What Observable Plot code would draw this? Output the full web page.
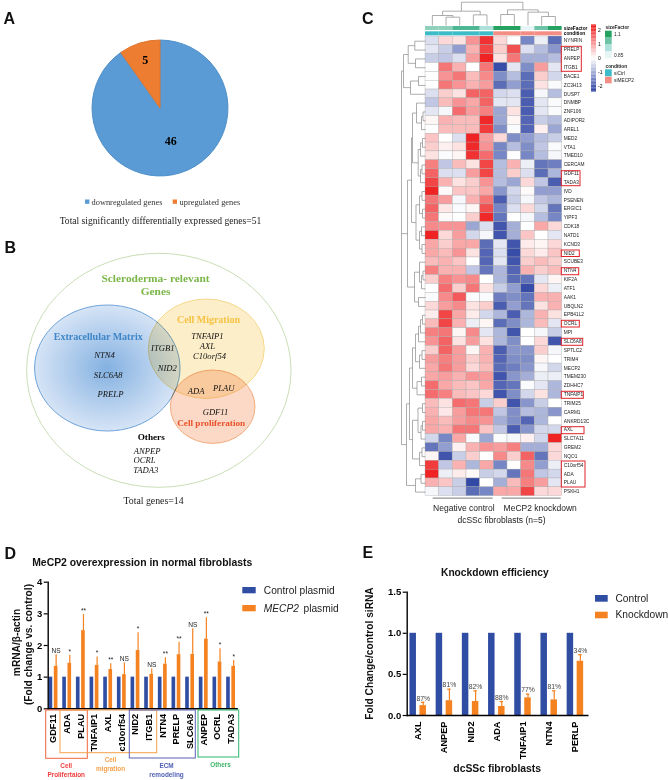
<!DOCTYPE html>
<html>
<head>
<meta charset="utf-8">
<script src="https://cdn.jsdelivr.net/npm/d3@7"></script>
<script src="https://cdn.jsdelivr.net/npm/@observablehq/plot@0.6"></script>
<style>
html,body{margin:0;padding:0;background:#fff}
#page{position:relative;width:668px;height:780px;overflow:hidden;background:#fff}
#page svg{position:absolute;max-width:none;background:transparent}
</style>
</head>
<body>
<div id="page"></div>
<script>
const SANS = "'Liberation Sans', Arial, sans-serif";
const SERIF = "'Liberation Serif', 'Times New Roman', serif";
const BLUE = "#2f4da3", ORANGE = "#f58220";

// ---- Panel A
const pieLabels = ["downregulated genes", "upregulated genes"];
const pieValues = [46, 5];
const pieColors = ["#5b9bd5", "#ed7d31"];
const pieEdges = ["#4f8fc9", "#e0762f"];

// ---- Panel B
const vennSets = [
  {name: "outer", cx: 158.8, cy: 370.3, rx: 132.2, ry: 117, fill: "none", stroke: "#c9deb4"},
  {name: "ecm", cx: 107.3, cy: 368, rx: 72.7, ry: 63, fill: "url(#ecmFill)", stroke: "#6fa3d8"},
  {name: "migration", cx: 206.3, cy: 348.7, rx: 58, ry: 49.7, fill: "#fdeeca", stroke: "#f6d88c"},
  {name: "proliferation", cx: 212.7, cy: 406.7, rx: 42.3, ry: 36.7, fill: "#fbd9c6", stroke: "#f2ab7c"}
];
const vennHeadings = [
  {t: "Scleroderma- relevant", x: 155, y: 277.7, c: "#7ab648", s: 11.4},
  {t: "Genes", x: 155, y: 291, c: "#7ab648", s: 11.4},
  {t: "Cell Migration", x: 208, y: 319, c: "#f5c242", s: 10},
  {t: "Extracellular Matrix", x: 97.7, y: 336, c: "#3f86c8", s: 10},
  {t: "Cell proliferation", x: 210.7, y: 423, c: "#e8502a", s: 9.2},
  {t: "Others", x: 150.7, y: 437, c: "#000", s: 9.2}
];
const vennGenes = [
  {t: "NTN4", x: 104, y: 355}, {t: "SLC6A8", x: 107.7, y: 375}, {t: "PRELP", x: 110, y: 394},
  {t: "ITGB1", x: 162.3, y: 348}, {t: "NID2", x: 166.7, y: 367.3},
  {t: "TNFAIP1", x: 207, y: 335.3}, {t: "AXL", x: 207, y: 345.7}, {t: "C10orf54", x: 209, y: 355.3},
  {t: "ADA", x: 195.7, y: 390.3}, {t: "PLAU", x: 223.3, y: 387.7}, {t: "GDF11", x: 215, y: 411.7},
  {t: "ANPEP", x: 146.7, y: 450.3}, {t: "OCRL", x: 144, y: 460}, {t: "TADA3", x: 145.3, y: 470}
];

// ---- Panel C
const heatGenes = ["NYNRIN","PRELP","ANPEP","ITGB1","BACE1","ZC3H13","DUSP7","DNMBP","ZNF106","ADIPOR2","AREL1","MED2","VTA1","TMED10","CERCAM","GDF11","TADA3","IVD","PSENEN","ERGIC1","YIPF3","CDK18","NATD1","KCND3","NID2","SCUBE3","NTN4","KIF2A","ATF1","AAK1","UBQLN2","EPB41L2","OCRL","MPI","SLC6A8","SPTLC2","TRIM4","MECP2","TMEM230","ZDHHC7","TNFAIP1","TRIM25","CARM1","ANKRD13C","AXL","SLC7A11","GREM2","NQO1","C10orf54","ADA","PLAU","PSKH1"];
const heatSamples = ["c1","c2","c3","c4","c5","k1","k2","k3","k4","k5"];
const heatValues = [
[-0.4,0.4,0.3,1.1,2.1,0.4,0,-1.5,-0.2,-1.8],
[-0.3,-0.6,-1.2,0.8,1.9,0.5,1.8,-0.4,-0.8,-1.3],
[-0.6,-0.7,-0.4,1.0,2.3,0.3,1.4,-1.0,-1.0,-0.8],
[0,1.4,0.8,0,1.4,-2.2,-0.3,-1.4,1.0,-0.3],
[0,1.1,1.4,0.7,1.2,-1.4,-0.8,-1.8,0.5,-0.5],
[0,1.4,1.1,0.8,1.0,-1.8,-1.2,-1.8,0.3,-0.05],
[-0.4,0.5,0.3,1.6,1.6,-0.5,-0.4,-2.0,-0.1,-0.8],
[-0.7,0.7,1.1,0.9,1.6,-0.3,-0.3,-2.0,-0.3,-0.05],
[-0.3,-0.1,1.5,1.0,1.3,-1.1,0.3,-2.0,-0.3,-0.05],
[0.1,0.8,0.7,0.7,2.2,-1.1,0.1,-1.9,-0.6,-0.8],
[0,0.7,0.7,0.7,2.0,-1.4,-0.05,-1.9,0.15,-1.1],
[0.6,0,-0.4,2.4,1.0,0.4,-1.4,-1.2,-0.8,-0.6],
[0.5,0.15,0.3,2.2,1.1,-1.5,-0.8,-1.4,-0.7,-0.05],
[0.3,-0.05,0.1,2.1,1.5,-1.5,0,-1.5,-0.8,-0.1],
[1.3,-0.7,0.7,0.3,1.9,-0.8,0.8,-0.2,-1.7,-1.6],
[1.6,-0.4,-0.4,1.0,1.9,-0.8,0.5,-0.4,-1.8,-0.9],
[1.9,0.8,0.3,0.5,1.1,-0.8,-1.1,0.4,-0.7,-2.0],
[2.3,0.05,0.6,0.6,0.9,-1.3,-0.5,0.05,-1.2,-1.2],
[1.4,1.0,-0.1,0.8,1.4,-2.0,-0.6,-0.1,-0.7,-0.9],
[1.6,0.25,-0.05,0.1,1.8,-1.5,-0.4,0.4,-0.5,-1.7],
[1.4,0.05,0,0.5,2.2,-1.7,0,-0.1,-0.8,-1.5],
[1.2,1.1,1.1,-1.1,-0.4,-2.1,-1.0,0,0.9,0.4],
[2.3,0.4,1.0,-0.5,-0.1,-2.1,-1.0,0.6,0,-0.3],
[0.9,0.5,0.9,0.9,-1.8,-0.3,-2.1,0.2,0.1,0.4],
[0.9,0.7,1.1,0.3,-1.9,-0.4,-2.2,0.4,0.2,0.6],
[0.7,0.8,0.6,0,-1.9,-0.3,-2.1,0.5,0.7,0.5],
[1.3,0.8,0.8,-0.7,-1.7,-0.9,-1.9,0.8,0.5,0.7],
[0.5,1.3,1.1,1.2,0,-0.9,-1.8,-1.7,-0.3,0.1],
[0,1.5,0.5,1.4,0.3,-0.6,-1.2,-2.2,0.4,-0.2],
[-0.05,1.2,1.7,-0.05,-0.05,-1.6,-1.4,-1.7,0.8,0.8],
[0.4,1.0,1.2,0.3,0.5,-2.0,-1.2,-1.7,0.3,0.8],
[0.2,1.9,0.9,0.2,-0.5,-0.9,-2.0,-0.9,0.8,0.3],
[0.7,1.9,0.8,-0.2,0.1,-1.8,-1.4,-0.9,0.7,-0.3],
[1.3,1.4,0.1,1.2,-0.3,-0.9,-2.1,0,-0.1,-0.6],
[1.1,1.6,0.3,1.0,0.3,-0.9,-1.4,0,0.4,-2.1],
[0.5,1.6,1.0,0.1,0.8,-2.0,-1.3,-1.3,0.5,-0.1],
[1.0,1.3,1.0,0.5,0.8,-1.9,-1.4,-1.4,0.1,0],
[0.9,1.4,1.0,0.4,0.7,-1.8,-1.6,-1.3,-0.1,-0.5],
[0.9,1.0,0.8,1.1,1.0,-2.1,-1.3,-1.0,-0.2,-0.2],
[1.5,0.9,0.7,0.6,0.9,-1.9,-1.7,-0.05,-0.3,-0.9],
[1.5,1.3,0.7,0.6,0.4,-2.1,-1.4,-0.5,0.3,-0.9],
[0.7,0.3,1.5,1.4,-0.6,0.5,-2.1,-1.3,-0.6,0],
[0.8,0.25,1.0,1.4,1.4,-0.7,-1.4,-0.8,-0.9,-1.3],
[0.9,0.7,1.0,1.2,1.1,-1.0,-1.4,-1.9,-0.9,0],
[0.9,0.8,1.4,1.4,0.6,-0.7,-2.0,-1.3,-0.5,-0.5],
[-0.5,-1.5,0.9,-0.05,-1.1,-0.05,-0.1,0.15,-0.5,2.4],
[-1.7,-1.2,0.15,0.8,1.1,1.0,1.3,-1.0,-1.0,0.4],
[0.1,-2.1,-0.6,0.5,0,1.2,0.5,1.6,-1.7,0.4],
[2.0,-0.7,0.8,-0.9,0.9,-1.5,0,1.2,-1.2,-0.2],
[2.4,-0.2,0.2,0.05,-0.6,-0.5,-1.7,1.4,-0.7,-0.5],
[0.8,0.6,-0.6,-2.3,0,-1.0,0.7,1.3,1.0,-0.3],
[-0.1,-0.4,-0.6,-1.8,-1.5,0.9,0.9,1.9,0.4,0.4]
];
const sizeFactorColors = ["#8fd0bd","#8fd0bd","#4db795","#4db795","#aee0dc","#25a261","#25a261","#e8f5f7","#6cc3a5","#25a261"];
const conditionColors = ["#3bbcc8","#3bbcc8","#3bbcc8","#3bbcc8","#3bbcc8","#f48d84","#f48d84","#f48d84","#f48d84","#f48d84"];
const sizeFactorLegend = ["#25a261","#6cc3a5","#aee0dc","#e8f5f7"];
// dendrograms: [height, ...children], a number is a leaf index
const rowTree = [24,
  [19,
    [10, 0, [4.5, 1, 2]],
    [16,
      [13, [6, 3, [3.5, 4, 5]], [7.5, [4.5, 6, [3, 7, 8]], [3, 9, 10]]],
      [13, [8.5, 11, [4, 12, 13]], [10, [6, 14, [3.5, 15, 16]], [7, 17, [5, 18, [3, 19, 20]]]]]
    ]
  ],
  [18,
    [11, [7, 21, 22], [6, [4, 23, [2.5, 24, 25]], 26]],
    [14,
      [9.5, [6, [3.5, 27, 28], [4, 29, 30]], [6, [3, 31, 32], [3.5, 33, 34]]],
      [13, [7.3, [5, 35, [3.5, 36, 37]], [5, 38, [3, 39, 40]]], [9, [4, 41, [2.5, 42, 43]], 44]]
    ]
  ],
  [22, [15, 45, [7, 46, 47]], [17.3, [10, 48, 49], [10.7, 50, 51]]]
];
const colTree = [70,
  [43, [30, 0, [25, 1, 2]], [32, 3, 4]],
  [47, [33, 5, 6], [40, 7, [27, 8, 9]]]
];

// ---- Panel D
const seriesD = ["Control plasmid", "MECP2 plasmid"];
const genesD = ["GDF11","ADA","PLAU","TNFAIP1","AXL","c10orf54","NID2","ITGB1","NTN4","PRELP","SLC6A8","ANPEP","OCRL","TADA3"];
const controlD = [1,1,1,1,1,1,1,1,1,1,1,1,1,1];
const meanD = [1.34,1.44,2.47,1.37,1.24,1.08,1.84,1.09,1.41,1.71,1.72,2.2,1.48,1.34];
const upperD = [1.71,1.69,2.98,1.64,1.42,1.45,2.4,1.26,1.61,2.1,2.53,2.88,1.9,1.53];
const sigD = ["NS","*","**","*","**","NS","*","NS","**","**","NS","**","*","*"];

// ---- Panel E
const seriesE = ["Control", "Knockdown"];
const genesE = ["AXL","ANPEP","NID2","ADA","TNFAIP1","NTN4","PERLP"];
const controlE = [1,1,1,1,1,1,1];
const meanE = [0.12,0.18,0.17,0.11,0.215,0.19,0.66];
const upperE = [0.16,0.32,0.30,0.17,0.26,0.30,0.74];
const pctE = ["87%","81%","82%","88%","77%","81%","34%"];

// ---- helpers
const page = document.getElementById("page");
function place(left, top, opts) {
  const svg = Plot.plot({margin: 0, ...opts, style: {fontFamily: SANS, background: "transparent", color: "#000", overflow: "visible"}});
  svg.style.left = left + "px";
  svg.style.top = top + "px";
  page.appendChild(svg);
  return svg;
}
function treeSegments(tree) {
  const segs = [];
  (function walk(n) {
    if (typeof n === "number") return {pos: n + 0.5, h: 0};
    const [h, ...kids] = n;
    const ch = kids.map(walk);
    for (const c of ch) segs.push({h1: h, h2: c.h, p1: c.pos, p2: c.pos});
    segs.push({h1: h, h2: h, p1: ch[0].pos, p2: ch[ch.length - 1].pos});
    return {pos: (ch[0].pos + ch[ch.length - 1].pos) / 2, h};
  })(tree);
  return segs;
}

// ---- A: pie
const pieArcs = d3.pie().sort(null)(pieValues).map((a, i) => ({...a, i}));
const pieTextRadius = [0.5, 0.74];
place(90, 37.5, {
  width: 140, height: 140,
  x: {domain: [-1.03, 1.03], axis: null}, y: {domain: [-1.03, 1.03], range: [0, 140], axis: null},
  marks: [
    (index, {x, y}) => {
      const r = x(1) - x(0);
      const arc = d3.arc().innerRadius(0).outerRadius(r);
      const g = d3.create("svg:g").attr("transform", `translate(${x(0)},${y(0)})`);
      g.selectAll("path").data(pieArcs).join("path").attr("d", arc)
        .attr("fill", d => pieColors[d.i]).attr("stroke", d => pieEdges[d.i]).attr("stroke-width", 1);
      return g.node();
    },
    Plot.text(pieArcs, {
      x: d => Math.sin((d.startAngle + d.endAngle) / 2) * pieTextRadius[d.i],
      y: d => -Math.cos((d.startAngle + d.endAngle) / 2) * pieTextRadius[d.i],
      text: d => String(d.value), fontFamily: SERIF, fontWeight: "bold", fontSize: 12, fill: "#000"
    })
  ]
});

// ---- B: Venn
const vennRange = {x: {domain: [0, 340], range: [0, 340], axis: null}, y: {domain: [235, 525], range: [0, 290], axis: null}};
place(0, 235, {
  width: 340, height: 290, ...vennRange,
  marks: [
    (index, {x, y}) => {
      const g = d3.create("svg:g");
      const grad = g.append("defs").append("radialGradient").attr("id", "ecmFill");
      grad.append("stop").attr("offset", "0%").attr("stop-color", "#84b1e1");
      grad.append("stop").attr("offset", "100%").attr("stop-color", "#d6e4f6");
      g.selectAll("ellipse").data(vennSets).join("ellipse")
        .attr("cx", d => x(d.cx)).attr("cy", d => y(d.cy))
        .attr("rx", d => x(d.rx) - x(0)).attr("ry", d => y(235 + d.ry) - y(235))
        .attr("fill", d => d.fill).attr("stroke", d => d.stroke).attr("stroke-width", 1)
        .style("mix-blend-mode", "multiply");
      return g.node();
    },
    Plot.text(vennHeadings, {x: "x", y: "y", text: "t", fill: "c", fontSize: "s", fontFamily: SERIF, fontWeight: "bold"}),
    Plot.text(vennGenes, {x: "x", y: "y", text: "t", fill: "#111", fontSize: 8.6, fontFamily: SERIF, fontStyle: "italic"})
  ]
});

// ---- C: heatmap
const heatColor = {type: "linear", domain: [-2.25, 0, 2.25], range: ["#3349a6", "#ffffff", "#ef2324"], clamp: true};
const heatRows = heatValues.flatMap((row, r) => row.map((v, c) => ({gene: heatGenes[r], sample: heatSamples[c], v})));
place(425, 36.3, {
  width: 166.7, height: 459.7, marginRight: 30,
  x: {domain: heatSamples, padding: 0, round: false, axis: null},
  y: {domain: heatGenes, padding: 0, round: false, label: null},
  color: heatColor,
  marks: [
    Plot.cell(heatRows, {x: "sample", y: "gene", fill: "v", stroke: "#a8a8a8", strokeWidth: 0.35}),
    Plot.axisY({anchor: "right", tickSize: 0, tickPadding: 1.6, fontSize: 4.8, fill: "#222", label: null})
  ]
});
const annotRows = heatSamples.flatMap((s, i) => [
  {track: "sizeFactor", s, c: sizeFactorColors[i]}, {track: "condition", s, c: conditionColors[i]}
]);
place(425, 26, {
  width: 166.7, height: 9.3, marginRight: 30,
  x: {domain: heatSamples, padding: 0, round: false, axis: null},
  y: {domain: ["sizeFactor", "condition"], paddingInner: 0.25, paddingOuter: 0, round: false, label: null},
  marks: [
    Plot.cell(annotRows, {x: "s", y: "track", fill: "c"}),
    Plot.axisY({anchor: "right", tickSize: 0, tickPadding: 1.6, fontSize: 4.8, fontWeight: "bold", label: null})
  ]
});
// row dendrogram
place(396, 30, {
  width: 30, height: 470, marginLeft: 5, marginRight: 1, marginTop: 6.3, marginBottom: 4,
  x: {domain: [24, 0], axis: null}, y: {domain: [0, 52], axis: null},
  marks: [Plot.link(treeSegments(rowTree), {x1: "h1", x2: "h2", y1: "p1", y2: "p2", stroke: "#8a8a8a", strokeWidth: 0.7})]
});
// column dendrogram
place(425, 0, {
  width: 136.7, height: 26, marginTop: 1.7, marginBottom: 1,
  x: {domain: [0, 10], axis: null}, y: {domain: [0, 70], axis: null},
  marks: [Plot.link(treeSegments(colTree), {y1: "h1", y2: "h2", x1: "p1", x2: "p2", stroke: "#8a8a8a", strokeWidth: 0.7})]
});
// colour bar
const rampSteps = d3.range(-2.4, 2.4, 0.1);
place(590.7, 20, {
  width: 17, height: 76, marginRight: 12, marginTop: 4.4, marginBottom: 4.4,
  x: {domain: [0, 1], axis: null}, y: {domain: [-2.4, 2.4], label: null},
  color: heatColor,
  marks: [
    Plot.rect(rampSteps, {x1: 0, x2: 1, y1: d => d, y2: d => d + 0.1, fill: d => d + 0.05}),
    Plot.axisY({anchor: "right", ticks: [-2, -1, 0, 1, 2], tickSize: 0, tickPadding: 1.5, fontSize: 5, label: null, tickFormat: d => d3.format("d")(d).replace("\u2212", "-")})
  ]
});

// ---- grouped bars for D and E
function groupedBars({left, top, width, height, marginLeft, marginRight, marginTop, marginBottom, genes, series, control, mean, upper, yDomain, yTicks, tickFormat, paddingOuter, paddingInner, tickFont, ruleW, axisInsetL, axisInsetR, extra}) {
  const rows = genes.flatMap((g, i) => [
    {gene: g, series: series[0], v: control[i]},
    {gene: g, series: series[1], v: mean[i]}
  ]);
  const errs = genes.map((g, i) => ({gene: g, series: series[1], lo: mean[i], hi: upper[i]}));
  return place(left, top, {
    width, height, marginLeft, marginRight, marginTop, marginBottom,
    fx: {domain: genes, padding: 0, round: false, label: null},
    x: {domain: series, paddingInner, paddingOuter, round: false, axis: null},
    y: {domain: yDomain, label: null},
    color: {domain: series, range: [BLUE, ORANGE]},
    marks: [
      Plot.barY(rows, {fx: "gene", x: "series", y: "v", fill: "series"}),
      Plot.ruleX(errs, {fx: "gene", x: "series", y1: "lo", y2: "hi", stroke: ORANGE, strokeWidth: ruleW}),
      ...extra(errs),
      Plot.frame({anchor: "left", facet: "super", stroke: "#000", strokeWidth: 1.4, insetLeft: axisInsetL, clip: false}),
      Plot.frame({anchor: "bottom", facet: "super", stroke: "#000", strokeWidth: 1.4, insetLeft: axisInsetL, insetRight: axisInsetR, clip: false}),
      Plot.axisY({anchor: "left", ticks: yTicks, tickFormat, tickSize: 4, tickPadding: 2, dx: axisInsetL, fontSize: 9.5, fontWeight: "bold", strokeWidth: 1.2, label: null}),
      Plot.axisFx({anchor: "bottom", tickRotate: -90, tickSize: 0, tickPadding: tickFont.pad, fontSize: tickFont.size, fontWeight: "bold", label: null})
    ]
  });
}
groupedBars({
  left: 0, top: 570, width: 340, height: 184, marginLeft: 46.2, marginRight: 102.6, marginTop: 11.7, marginBottom: 45.7,
  genes: genesD, series: seriesD, control: controlD, mean: meanD, upper: upperD,
  yDomain: [0, 4], yTicks: [0, 1, 2, 3, 4], tickFormat: d3.format("d"),
  paddingInner: 0.3, paddingOuter: 0.46, ruleW: 1.2, axisInsetL: 1.5, axisInsetR: 0.7,
  tickFont: {pad: 5, size: 9.2},
  extra: errs => [
    Plot.text(errs, {fx: "gene", x: "series", y: "hi", text: (d, i) => sigD[i], lineAnchor: "bottom", dy: -1.5, fontSize: 6.6, fill: "#222"})
  ]
});
groupedBars({
  left: 340, top: 580, width: 328, height: 185, marginLeft: 64.6, marginRight: 80, marginTop: 11.7, marginBottom: 50,
  genes: genesE, series: seriesE, control: controlE, mean: meanE, upper: upperE,
  yDomain: [0, 1.5], yTicks: [0, 0.5, 1, 1.5], tickFormat: d3.format(".1f"),
  paddingInner: 0.35, paddingOuter: 0.485, ruleW: 1.2, axisInsetL: 2.1, axisInsetR: 0.7,
  tickFont: {pad: 6, size: 9.2},
  extra: errs => [
    Plot.tickY(errs, {fx: "gene", x: "series", y: "hi", stroke: ORANGE, strokeWidth: 1.2, insetLeft: 1.5, insetRight: 1.5}),
    Plot.text(errs, {fx: "gene", x: "series", y: "hi", text: (d, i) => pctE[i], lineAnchor: "bottom", dy: -1.8, fontSize: 6.8, fill: "#444"})
  ]
});

// ---- page-level labels, boxes and legends
const panelLetters = [
  {t: "A", x: 3, y: 18.6}, {t: "B", x: 4, y: 247.6}, {t: "C", x: 361.5, y: 18.4},
  {t: "D", x: 4, y: 553.6}, {t: "E", x: 362, y: 552}
];
const pieLegendText = [{t: pieLabels[0], x: 91, y: 201.6}, {t: pieLabels[1], x: 179, y: 201.6}];
const pieSwatches = [{x1: 85, x2: 89.4, c: pieColors[0]}, {x1: 172.7, x2: 177, c: pieColors[1]}];
const serifNotes = [
  {t: "Total significantly differentially expressed genes=51", x: 160, y: 220.5, s: 9.6},
  {t: "Total genes=14", x: 153, y: 500.7, s: 9.8}
];
const redBoxes = [
  {x2: 581.3, y1: 46.3, y2: 71.3}, {x2: 580, y1: 170.7, y2: 185.7}, {x2: 579.3, y1: 250, y2: 256.5},
  {x2: 578.7, y1: 267.7, y2: 274.7}, {x2: 579.3, y1: 320.3, y2: 327}, {x2: 582.7, y1: 338.3, y2: 345.3},
  {x2: 583.3, y1: 391.3, y2: 398.3}, {x2: 584, y1: 426.7, y2: 433.7}, {x2: 585, y1: 461, y2: 487}
];
const sizeLegendCells = sizeFactorLegend.map((c, i) => ({c, i}));
const heatLegendText = [
  {t: "1.1", x: 613.5, y: 34.3}, {t: "0.85", x: 613.5, y: 55},
  {t: "siCtrl", x: 613.5, y: 72.7}, {t: "siMECP2", x: 613.5, y: 80}
];
const heatLegendHeads = [{t: "sizeFactor", x: 605, y: 27.3}, {t: "condition", x: 605, y: 66}];
const condSwatches = [{y1: 69.3, y2: 76.3, c: conditionColors[0]}, {y1: 76.7, y2: 83.3, c: conditionColors[9]}];
const heatFooterLines = [{x1: 432.7, x2: 492.7}, {x1: 501.7, x2: 560.7}];
const heatFooter = [
  {t: "Negative control", x: 463.3, y: 507.3}, {t: "MeCP2 knockdown", x: 539.7, y: 507.3},
  {t: "dcSSc fibroblasts (n=5)", x: 501, y: 519.3}
];
const boldTitles = [
  {t: "MeCP2 overexpression in normal fibroblasts", x: 141.7, y: 562, s: 10.4},
  {t: "Knockdown efficiency", x: 494.3, y: 572.3, s: 10.2},
  {t: "dcSSc fibroblasts", x: 496.7, y: 768, s: 10.4}
];
const yTitles = [
  {t: "mRNA/\u03b2-actin", x: 16, y: 642},
  {t: "(Fold change vs. control)", x: 28.3, y: 644},
  {t: "Fold Change/control siRNA", x: 369, y: 653}
];
const geneBoxes = [
  {x1: 45.7, x2: 87.3, y1: 710, y2: 758.3, c: "#f0653a"},
  {x1: 60, x2: 156.7, y1: 710, y2: 752.7, c: "#f7a24a"},
  {x1: 129.3, x2: 195.3, y1: 710, y2: 758, c: "#5a62b4"},
  {x1: 198, x2: 238.7, y1: 710, y2: 757, c: "#2fb56e"}
];
const boxLabels = [
  {t: "Cell", x: 65.7, y: 765, c: "#ee3b3b"}, {t: "Prolifertaion", x: 65.7, y: 774, c: "#ee3b3b"},
  {t: "Cell", x: 110, y: 759.3, c: "#f5a04a"}, {t: "migration", x: 110, y: 768.3, c: "#f5a04a"},
  {t: "ECM", x: 166, y: 765, c: "#5060b4"}, {t: "remodeling", x: 166, y: 774, c: "#5060b4"},
  {t: "Others", x: 220, y: 764, c: "#3cb56a"}
];
const barSwatches = [
  {x1: 242.3, x2: 255.7, y1: 587, y2: 593.3, c: BLUE}, {x1: 242.3, x2: 255.7, y1: 605, y2: 611.3, c: ORANGE},
  {x1: 595, x2: 607.7, y1: 595, y2: 601.7, c: BLUE}, {x1: 595, x2: 607.7, y1: 611.7, y2: 618.3, c: ORANGE}
];
const barLegendText = [
  {t: "Control plasmid", x: 263.3, y: 590.7}, {t: "plasmid", x: 303, y: 608},
  {t: "Control", x: 615, y: 598.3}, {t: "Knockdown", x: 615, y: 614.7}
];
place(0, 0, {
  width: 668, height: 780,
  x: {type: "identity", axis: null}, y: {type: "identity", axis: null},
  marks: [
    Plot.text(panelLetters, {x: "x", y: "y", text: "t", fontSize: 16, fontWeight: "bold", textAnchor: "start", fill: "#111"}),
    Plot.rect(pieSwatches, {x1: "x1", x2: "x2", y1: 199.5, y2: 203.8, fill: "c"}),
    Plot.text(pieLegendText, {x: "x", y: "y", text: "t", textAnchor: "start", fontFamily: SERIF, fontSize: 8.4, fill: "#333"}),
    Plot.text(serifNotes, {x: "x", y: "y", text: "t", fontFamily: SERIF, fontSize: "s", fill: "#222"}),
    Plot.rect(redBoxes, {x1: 561.3, x2: "x2", y1: "y1", y2: "y2", fill: "none", stroke: "#e0222a", strokeWidth: 1}),
    Plot.rect(sizeLegendCells, {x1: 605, x2: 611.7, y1: d => 30.7 + d.i * 6.9, y2: d => 30.7 + (d.i + 1) * 6.9, fill: "c"}),
    Plot.rect(condSwatches, {x1: 605, x2: 611.7, y1: "y1", y2: "y2", fill: "c"}),
    Plot.text(heatLegendText, {x: "x", y: "y", text: "t", textAnchor: "start", fontSize: 4.8, fill: "#222"}),
    Plot.text(heatLegendHeads, {x: "x", y: "y", text: "t", textAnchor: "start", fontSize: 4.8, fontWeight: "bold", fill: "#222"}),
    Plot.ruleY(heatFooterLines, {x1: "x1", x2: "x2", y: 497.6, stroke: "#555", strokeWidth: 0.8}),
    Plot.text(heatFooter, {x: "x", y: "y", text: "t", fontSize: 8.5, fill: "#222"}),
    Plot.text(boldTitles, {x: "x", y: "y", text: "t", fontSize: "s", fontWeight: "bold", fill: "#111"}),
    Plot.text(yTitles, {x: "x", y: "y", text: "t", fontSize: 10.2, fontWeight: "bold", rotate: -90, fill: "#111"}),
    Plot.rect(geneBoxes, {x1: "x1", x2: "x2", y1: "y1", y2: "y2", fill: "none", stroke: "c", strokeWidth: 1}),
    Plot.text(boxLabels, {x: "x", y: "y", text: "t", fill: "c", fontSize: 6.4, fontWeight: "bold"}),
    Plot.rect(barSwatches, {x1: "x1", x2: "x2", y1: "y1", y2: "y2", fill: "c"}),
    Plot.text(barLegendText, {x: "x", y: "y", text: "t", textAnchor: "start", fontSize: 10.2, fill: "#222"}),
    Plot.text([{t: "MECP2", x: 263.3, y: 608}], {x: "x", y: "y", text: "t", textAnchor: "start", fontSize: 10.2, fontStyle: "italic", fill: "#222"})
  ]
});
</script>
</body>
</html>
